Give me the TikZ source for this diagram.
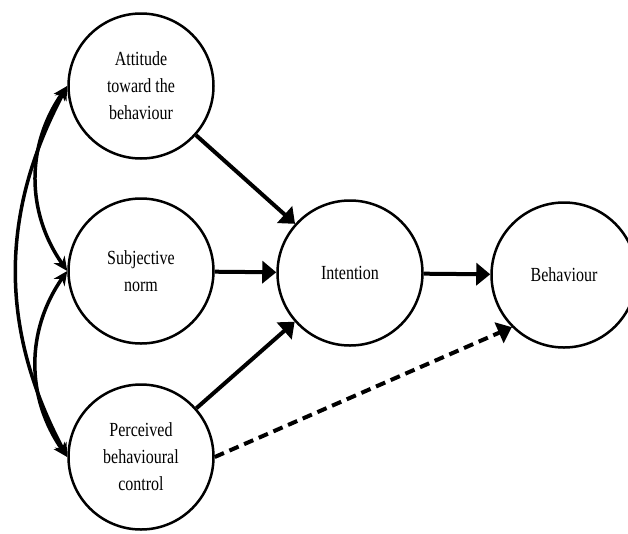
\documentclass[tikz,border=0pt]{standalone}
\usepackage{fontspec}
\setmainfont{Liberation Serif}[FakeStretch=0.8]
\usetikzlibrary{arrows.meta}

\begin{document}
\begin{tikzpicture}[x=1pt, y=-1pt,
    state/.style={circle, draw, line width=2.5pt, minimum size=145pt, inner sep=0pt, align=center, font=\fontsize{20}{27}\selectfont},
    flow/.style={line width=4pt, -{Triangle[length=14pt, width=22pt]}},
    link/.style={line width=3.5pt, {Stealth[length=14pt, width=13pt]}-{Stealth[length=14pt, width=13pt]}}]
    \useasboundingbox (0,0) rectangle (628,533);
    \node[state] (att) at (141,86) {Attitude\\toward the\\behaviour};
    \node[state] (subj) at (141,271) {Subjective\\norm};
    \node[state] (perc) at (141,457) {Perceived\\behavioural\\control};
    \node[state] (int) at (350,273) {Intention};
    \node[state] (beh) at (564,275) {Behaviour};
    \path (att) edge[flow] (int);
    \path (subj) edge[flow] (int);
    \path (perc) edge[flow] (int);
    \path (int) edge[flow] (beh);
    \path (perc.east) edge[flow, dash pattern=on 10pt off 6pt] (beh.south west);
    \path (att.west) edge[link, out=235, in=125] (subj.west);
    \path (subj.west) edge[link, out=235, in=125] (perc.west);
    \path (att.west) edge[link, out=242, in=118] (perc.west);
\end{tikzpicture}
\end{document}
